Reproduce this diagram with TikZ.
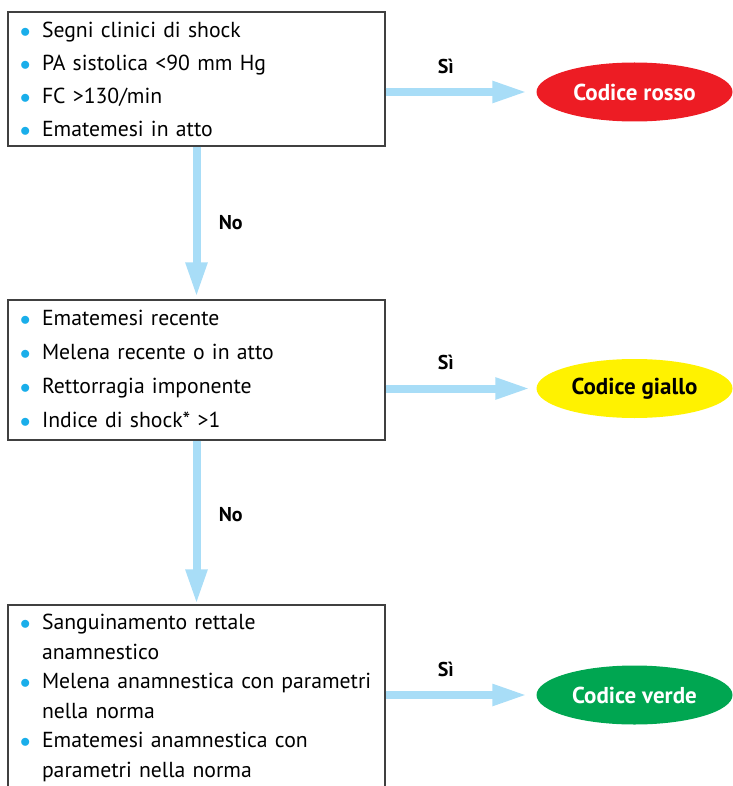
\documentclass[tikz,border=0pt]{standalone}
\usepackage{fontspec}
\setmainfont{PT Sans}
\usetikzlibrary{arrows.meta,shapes.geometric,positioning}
\definecolor{azzurro}{HTML}{A8DDF7}
\definecolor{punto}{HTML}{1AAEEA}
\definecolor{bordo}{HTML}{404040}
\definecolor{colrosso}{HTML}{ED1C24}
\definecolor{colgiallo}{HTML}{FFF200}
\definecolor{colverde}{HTML}{00A651}
\newcommand{\voce}[1]{\par\hangindent=24pt\hangafter=1\noindent\makebox[24pt][l]{\hspace{2pt}\textcolor{punto}{$\bullet$}}#1\par}
\tikzset{
  scatola/.style={draw=bordo, line width=1.2pt, rectangle, inner xsep=10pt, text width=357pt, align=left},
  esito/.style={ellipse, minimum width=196pt, minimum height=59pt, inner sep=0pt, font=\fontsize{23}{23}\selectfont\bfseries},
  freccia/.style={draw=azzurro, line width=8pt, -{Triangle[width=20pt,length=35pt]}},
  etichetta/.style={font=\fontsize{20}{20}\selectfont\bfseries}
}
\begin{document}
\begin{tikzpicture}[x=1pt,y=-1pt]
\useasboundingbox (0,0) rectangle (732,786);

\node[scatola, minimum height=134pt, font=\fontsize{21.7}{33}\selectfont] (crit1) at (196.5,79)
  {\vspace*{-16pt}\voce{Segni clinici di shock}\voce{PA sistolica <90 mm Hg}\voce{FC >130/min}\voce{Ematemesi in atto}};
\node[scatola, minimum height=140pt, font=\fontsize{21.7}{34}\selectfont] (crit2) at (196.5,370)
  {\vspace*{-20pt}\voce{Ematemesi recente}\voce{Melena recente o in atto}\voce{Rettorragia imponente}\voce{Indice di shock* >1}};
\node[scatola, minimum height=182pt, font=\fontsize{21.7}{29.5}\selectfont] (crit3) at (196.5,696)
  {\vspace*{-10pt}\voce{Sanguinamento rettale\newline anamnestico}\voce{Melena anamnestica con parametri\newline nella norma}\voce{Ematemesi anamnestica con\newline parametri nella norma}};

\node[esito, fill=colrosso, text=white] (rosso) at (634.5,92) {Codice rosso};
\node[esito, fill=colgiallo, text=black] (giallo) at (634.5,388.5) {Codice giallo};
\node[esito, fill=colverde, text=white] (verde) at (634.5,695) {Codice verde};

\draw[freccia, shorten >=9pt] (crit1.east |- rosso.west) -- node[pos=.4, above=11pt, etichetta] (si1) {Sì} (rosso.west);
\draw[freccia, shorten >=6pt] (crit2.east |- giallo.west) -- node[pos=.4, above=11pt, etichetta] (si2) {Sì} (giallo.west);
\draw[freccia, shorten >=9pt] (crit3.east |- verde.west) -- node[pos=.4, above=11pt, etichetta] (si3) {Sì} (verde.west);

\draw[freccia, shorten >=2pt] (crit1.south) -- node[pos=.5, right=15pt, etichetta] (no1) {No} (crit2.north);
\draw[freccia] (crit2.south) -- node[pos=.45, right=15pt, etichetta] (no2) {No} (crit3.north);
\end{tikzpicture}
\end{document}
